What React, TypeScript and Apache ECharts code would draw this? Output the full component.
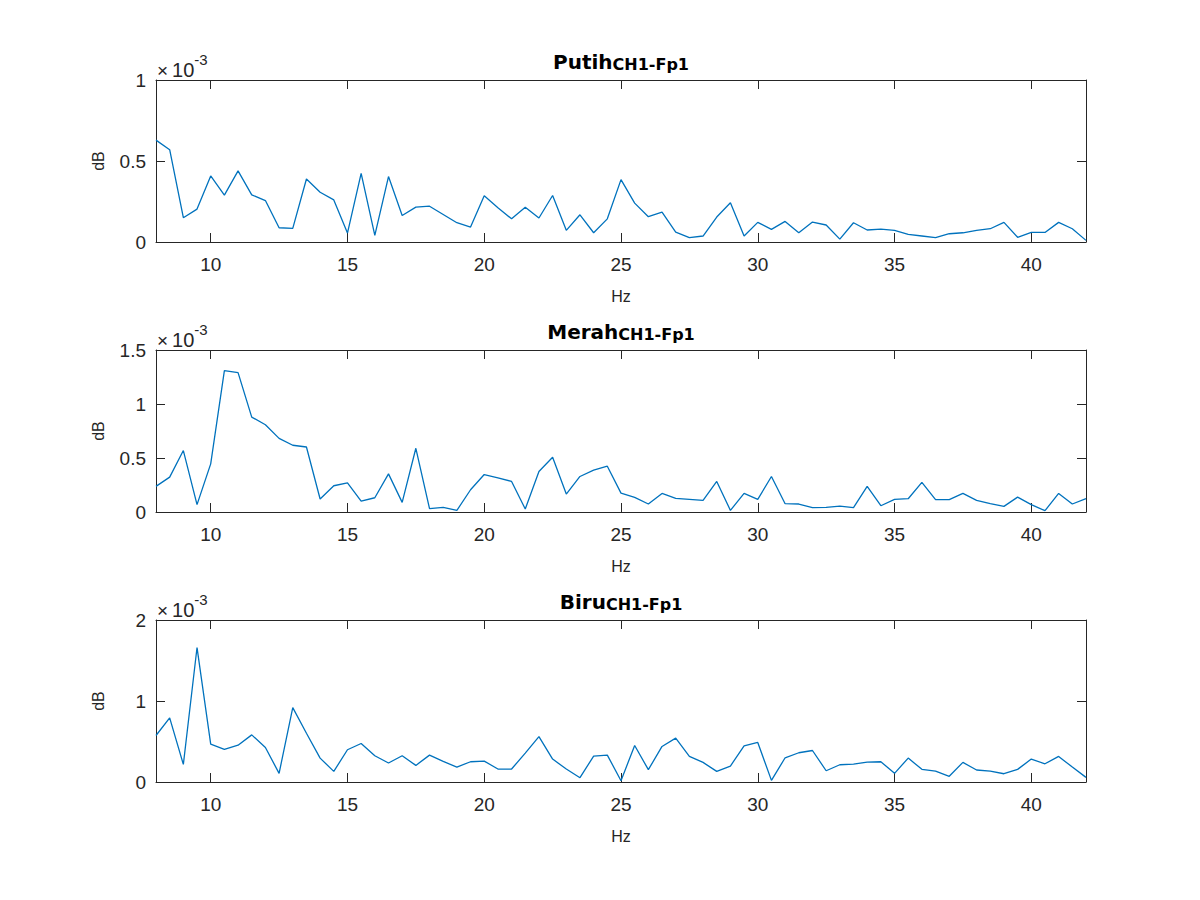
import React, { useEffect, useRef } from "react";
import * as echarts from "echarts";

const hz = [
  8, 8.5, 9, 9.5, 10, 10.5, 11, 11.5, 12, 12.5, 13, 13.5, 14, 14.5, 15, 15.5, 16, 16.5, 17, 17.5,
  18, 18.5, 19, 19.5, 20, 20.5, 21, 21.5, 22, 22.5, 23, 23.5, 24, 24.5, 25, 25.5, 26, 26.5, 27, 27.5,
  28, 28.5, 29, 29.5, 30, 30.5, 31, 31.5, 32, 32.5, 33, 33.5, 34, 34.5, 35, 35.5, 36, 36.5, 37, 37.5,
  38, 38.5, 39, 39.5, 40, 40.5, 41, 41.5, 42,
];

// values in units of 1e-3
const putih = [
  0.629, 0.57, 0.15, 0.203, 0.408, 0.289, 0.439, 0.291, 0.256, 0.088, 0.084, 0.389, 0.307, 0.26, 0.055,
  0.424, 0.041, 0.404, 0.164, 0.215, 0.221, 0.17, 0.119, 0.092, 0.285, 0.211, 0.143, 0.215, 0.148, 0.287,
  0.072, 0.168, 0.057, 0.143, 0.385, 0.24, 0.156, 0.184, 0.061, 0.027, 0.037, 0.154, 0.242, 0.037, 0.121,
  0.078, 0.127, 0.057, 0.123, 0.105, 0.018, 0.119, 0.074, 0.08, 0.072, 0.047, 0.037, 0.027, 0.051, 0.057,
  0.072, 0.082, 0.121, 0.029, 0.059, 0.059, 0.121, 0.082, 0.01,
];

const merah = [
  0.237, 0.323, 0.569, 0.068, 0.446, 1.309, 1.291, 0.879, 0.808, 0.682, 0.618, 0.602, 0.12, 0.243, 0.27,
  0.101, 0.132, 0.353, 0.089, 0.59, 0.031, 0.043, 0.015, 0.206, 0.347, 0.317, 0.283, 0.028, 0.375, 0.507,
  0.166, 0.329, 0.387, 0.424, 0.175, 0.135, 0.074, 0.172, 0.126, 0.117, 0.108, 0.283, 0.015, 0.172, 0.117,
  0.329, 0.077, 0.074, 0.04, 0.043, 0.055, 0.04, 0.237, 0.058, 0.117, 0.123, 0.274, 0.114, 0.114, 0.172,
  0.108, 0.077, 0.052, 0.138, 0.068, 0.012, 0.172, 0.074, 0.123,
];

const biru = [
  0.574, 0.791, 0.217, 1.66, 0.467, 0.402, 0.455, 0.582, 0.426, 0.107, 0.918, 0.602, 0.295, 0.131, 0.398,
  0.475, 0.324, 0.234, 0.324, 0.205, 0.332, 0.254, 0.184, 0.25, 0.258, 0.16, 0.16, 0.357, 0.561, 0.283,
  0.16, 0.053, 0.32, 0.332, 0.016, 0.451, 0.152, 0.439, 0.541, 0.316, 0.242, 0.131, 0.197, 0.447, 0.488,
  0.02, 0.299, 0.361, 0.389, 0.139, 0.213, 0.221, 0.246, 0.25, 0.107, 0.295, 0.156, 0.135, 0.07, 0.242,
  0.148, 0.135, 0.102, 0.156, 0.283, 0.225, 0.316, 0.184, 0.057,
];

const titles = ["Putih", "Merah", "Biru"];
const subTitle = "CH1-Fp1";
const xTicks = [10, 15, 20, 25, 30, 35, 40];
const yMax = [1, 1.5, 2];
const yInterval = [0.5, 0.5, 1];
const xLabel = "Hz";
const yLabel = "dB";
const exponent = "-3";

const FONT = "Liberation Sans, Arial, Helvetica, sans-serif";
const TITLE_FONT = "DejaVu Sans, Liberation Sans, Arial, sans-serif";
const AX = "#262626";
const LINE = "#0072BD";

export default function App() {
  const ref = useRef<HTMLDivElement>(null);
  useEffect(() => {
    if (!ref.current) return;
    const chart = echarts.init(ref.current, undefined, { renderer: "svg" });
    const seriesData = [putih, merah, biru];
    const gridLeft = 156;
    const gridWidth = 930;
    const gridH = 162;
    const tops = [80, 350, 620];

    const grid = tops.map((t) => ({ left: gridLeft, top: t, width: gridWidth, height: gridH, containLabel: false }));
    const tickStyle = { color: AX, width: 1 };
    const xAxis: any[] = [];
    const yAxis: any[] = [];
    tops.forEach((_, i) => {
      xAxis.push({
        type: "value", gridIndex: i, min: 8, max: 42, position: "bottom",
        axisLine: { show: true, onZero: false, lineStyle: tickStyle },
        axisTick: { show: true, inside: true, length: 9, customValues: xTicks, lineStyle: tickStyle },
        axisLabel: { show: true, customValues: xTicks, margin: 13, fontSize: 19, color: AX, fontFamily: FONT },
        splitLine: { show: false },
        name: xLabel, nameLocation: "middle", nameGap: 46,
        nameTextStyle: { fontSize: 16, color: AX, fontFamily: FONT },
      });
      xAxis.push({
        type: "value", gridIndex: i, min: 8, max: 42, position: "top",
        axisLine: { show: true, onZero: false, lineStyle: tickStyle },
        axisTick: { show: true, inside: true, length: 9, customValues: xTicks, lineStyle: tickStyle },
        axisLabel: { show: false },
        splitLine: { show: false },
      });
      yAxis.push({
        type: "value", gridIndex: i, min: 0, max: yMax[i], interval: yInterval[i], position: "left",
        axisLine: { show: true, onZero: false, lineStyle: tickStyle },
        axisTick: { show: true, inside: true, length: 9, lineStyle: tickStyle },
        axisLabel: { show: true, margin: 10, fontSize: 19, color: AX, fontFamily: FONT },
        splitLine: { show: false },
        name: yLabel, nameLocation: "middle", nameGap: 50,
        nameTextStyle: { fontSize: 16, color: AX, fontFamily: FONT },
      });
      yAxis.push({
        type: "value", gridIndex: i, min: 0, max: yMax[i], interval: yInterval[i], position: "right",
        axisLine: { show: true, onZero: false, lineStyle: tickStyle },
        axisTick: { show: true, inside: true, length: 9, lineStyle: tickStyle },
        axisLabel: { show: false },
        splitLine: { show: false },
      });
    });

    const series = seriesData.map((vals, i) => ({
      type: "line",
      xAxisIndex: i * 2,
      yAxisIndex: i * 2,
      data: hz.map((h, k) => [h, vals[k]]),
      showSymbol: false,
      symbol: "none",
      lineStyle: { color: LINE, width: 1.3 },
      clip: true,
    }));

    const title = titles.map((t, i) => ({
      text: `{a|${t}}{b|${subTitle}}`,
      left: gridLeft + gridWidth / 2,
      top: tops[i] - 28,
      textAlign: "center",
      padding: 0,
      textStyle: {
        rich: {
          a: { fontSize: 20, fontWeight: "bold", color: "#000", fontFamily: TITLE_FONT, verticalAlign: "bottom" },
          b: { fontSize: 16, fontWeight: "bold", color: "#000", fontFamily: TITLE_FONT, verticalAlign: "bottom" },
        },
      },
    }));

    const graphic = tops.map((t) => ({
      type: "text",
      left: 157,
      top: t - 28,
      style: {
        text: `{m|×}{n|10}{s|${exponent}}`,
        rich: {
          m: { fontSize: 19, fill: AX, fontFamily: FONT, verticalAlign: "bottom" },
          n: { fontSize: 20, fill: AX, fontFamily: FONT, verticalAlign: "bottom", padding: [0, 0, 0, 4] },
          s: { fontSize: 15, fill: AX, fontFamily: FONT, verticalAlign: "bottom", padding: [0, 0, 13, 0] },
        },
      },
    }));

    chart.setOption({
      animation: false,
      backgroundColor: "#fff",
      textStyle: { fontFamily: FONT },
      title,
      grid,
      xAxis,
      yAxis,
      series,
      graphic,
    });
    return () => chart.dispose();
  }, []);
  return <div ref={ref} style={{ position: "absolute", left: 0, top: 0, width: 1200, height: 900 }} />;
}
